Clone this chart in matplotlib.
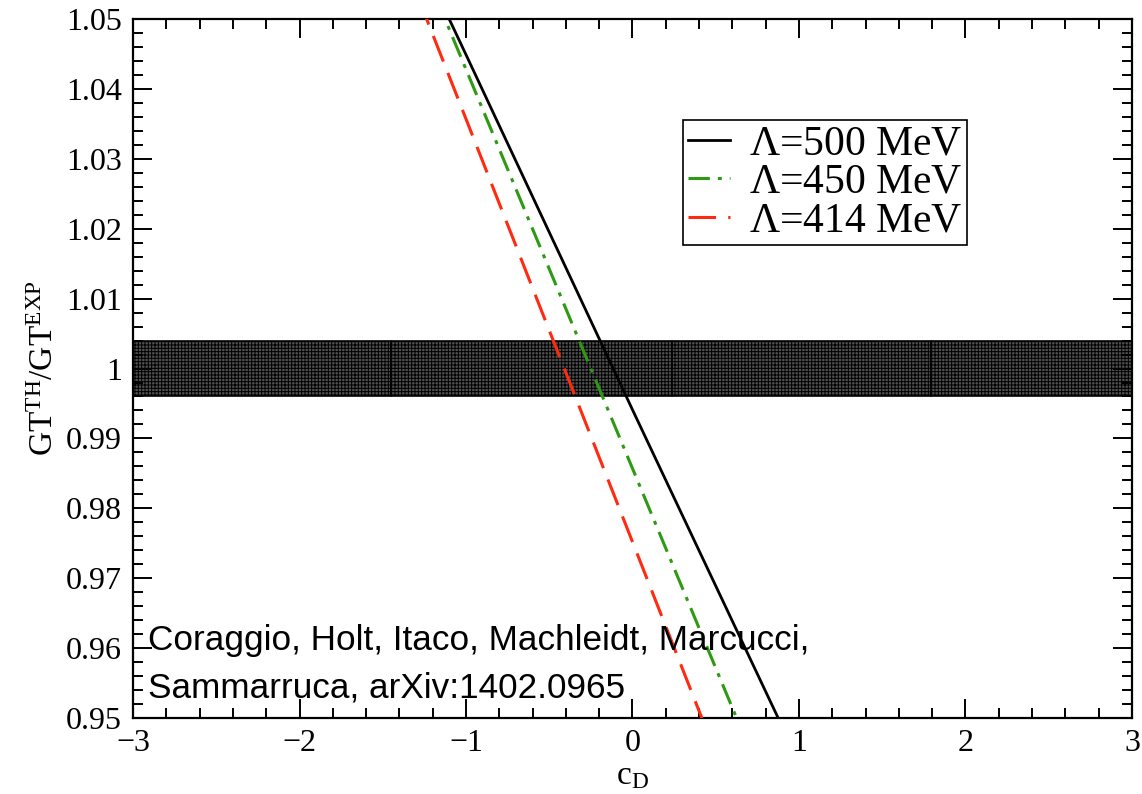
import matplotlib
matplotlib.use("Agg")
import matplotlib.pyplot as plt
from matplotlib.ticker import MultipleLocator

plt.rcParams["font.family"] = ["Liberation Serif", "DejaVu Serif"]
plt.rcParams["mathtext.fontset"] = "custom"
plt.rcParams["mathtext.rm"] = "Liberation Serif"
plt.rcParams["mathtext.it"] = "Liberation Serif:italic"
plt.rcParams["hatch.linewidth"] = 0.7

# GT ratio vs c_D for the three cutoffs
cd = [-2.0, -1.0, 0.0, 1.0, 2.0]
gt_500 = [1.0954, 1.0449, 0.9941, 0.9437, 0.8933]
gt_450 = [1.0999, 1.0428, 0.9857, 0.9286, 0.8715]
gt_414 = [1.0962, 1.0357, 0.9752, 0.9147, 0.8542]

# experimental band
band_lo = 0.996
band_hi = 1.004
band_edges = [-3.0, -1.45, 0.24, 1.79, 3.0]

yticks = [0.95, 0.96, 0.97, 0.98, 0.99, 1.00, 1.01, 1.02, 1.03, 1.04, 1.05]
ytick_labels = ["0.95", "0.96", "0.97", "0.98", "0.99", "1",
                "1.01", "1.02", "1.03", "1.04", "1.05"]
xticks = [-3, -2, -1, 0, 1, 2, 3]

fig = plt.figure(figsize=(11.42, 7.94), dpi=100)
ax = fig.add_axes([0.1165, 0.0957, 0.8747, 0.8803])

for x0, x1 in zip(band_edges[:-1], band_edges[1:]):
    ax.fill_between([x0, x1], band_lo, band_hi, facecolor="#505050",
                    edgecolor="black", hatch="+++++", linewidth=1.2, zorder=1)

ax.plot(cd, gt_500, color="black", lw=2.0, label=r"$\Lambda$=500 MeV", zorder=3)
ax.plot(cd, gt_450, color="#2e9a12", lw=2.2, dashes=(7, 2.6, 1.3, 2.6),
        label=r"$\Lambda$=450 MeV", zorder=3)
ax.plot(cd, gt_414, color="#ff2a10", lw=2.2, dashes=(9, 4),
        label=r"$\Lambda$=414 MeV", zorder=3)

ax.set_xlim(-3, 3)
ax.set_ylim(0.95, 1.05)
ax.set_xticks(xticks)
ax.set_xticklabels([str(v) if v >= 0 else "\u2212" + str(-v) for v in xticks])
ax.set_yticks(yticks)
ax.set_yticklabels(ytick_labels)
ax.xaxis.set_minor_locator(MultipleLocator(0.2))
ax.yaxis.set_minor_locator(MultipleLocator(0.002))
ax.tick_params(which="both", direction="in", top=True, right=True,
               labelsize=23, width=1.4, pad=8)
ax.tick_params(which="major", length=14)
ax.tick_params(which="minor", length=7)
for s in ax.spines.values():
    s.set_linewidth(1.6)

ax.set_xlabel(r"$\mathrm{c}_{\mathrm{D}}$", fontsize=24, labelpad=2)
ax.set_ylabel(r"$\mathrm{GT}^{\mathrm{TH}}/\mathrm{GT}^{\mathrm{EXP}}$",
              fontsize=24, labelpad=4)

leg = ax.legend(loc="upper left", bbox_to_anchor=(0.551, 0.856), fontsize=30,
                frameon=True, fancybox=False, framealpha=1, edgecolor="black",
                handlelength=1.0, handletextpad=0.45, borderpad=0.12,
                labelspacing=0.0, borderaxespad=0)
leg.get_frame().set_linewidth(1.2)

txt_font = ["Liberation Sans", "DejaVu Sans"]
ax.text(0.015, 0.0973, "Coraggio, Holt, Itaco, Machleidt, Marcucci,",
        transform=ax.transAxes, fontsize=25.3, family=txt_font,
        va="baseline", zorder=5)
ax.text(0.015, 0.030, "Sammarruca, arXiv:1402.0965",
        transform=ax.transAxes, fontsize=25.3, family=txt_font,
        va="baseline", zorder=5)

fig.savefig("out.png", dpi=100)
